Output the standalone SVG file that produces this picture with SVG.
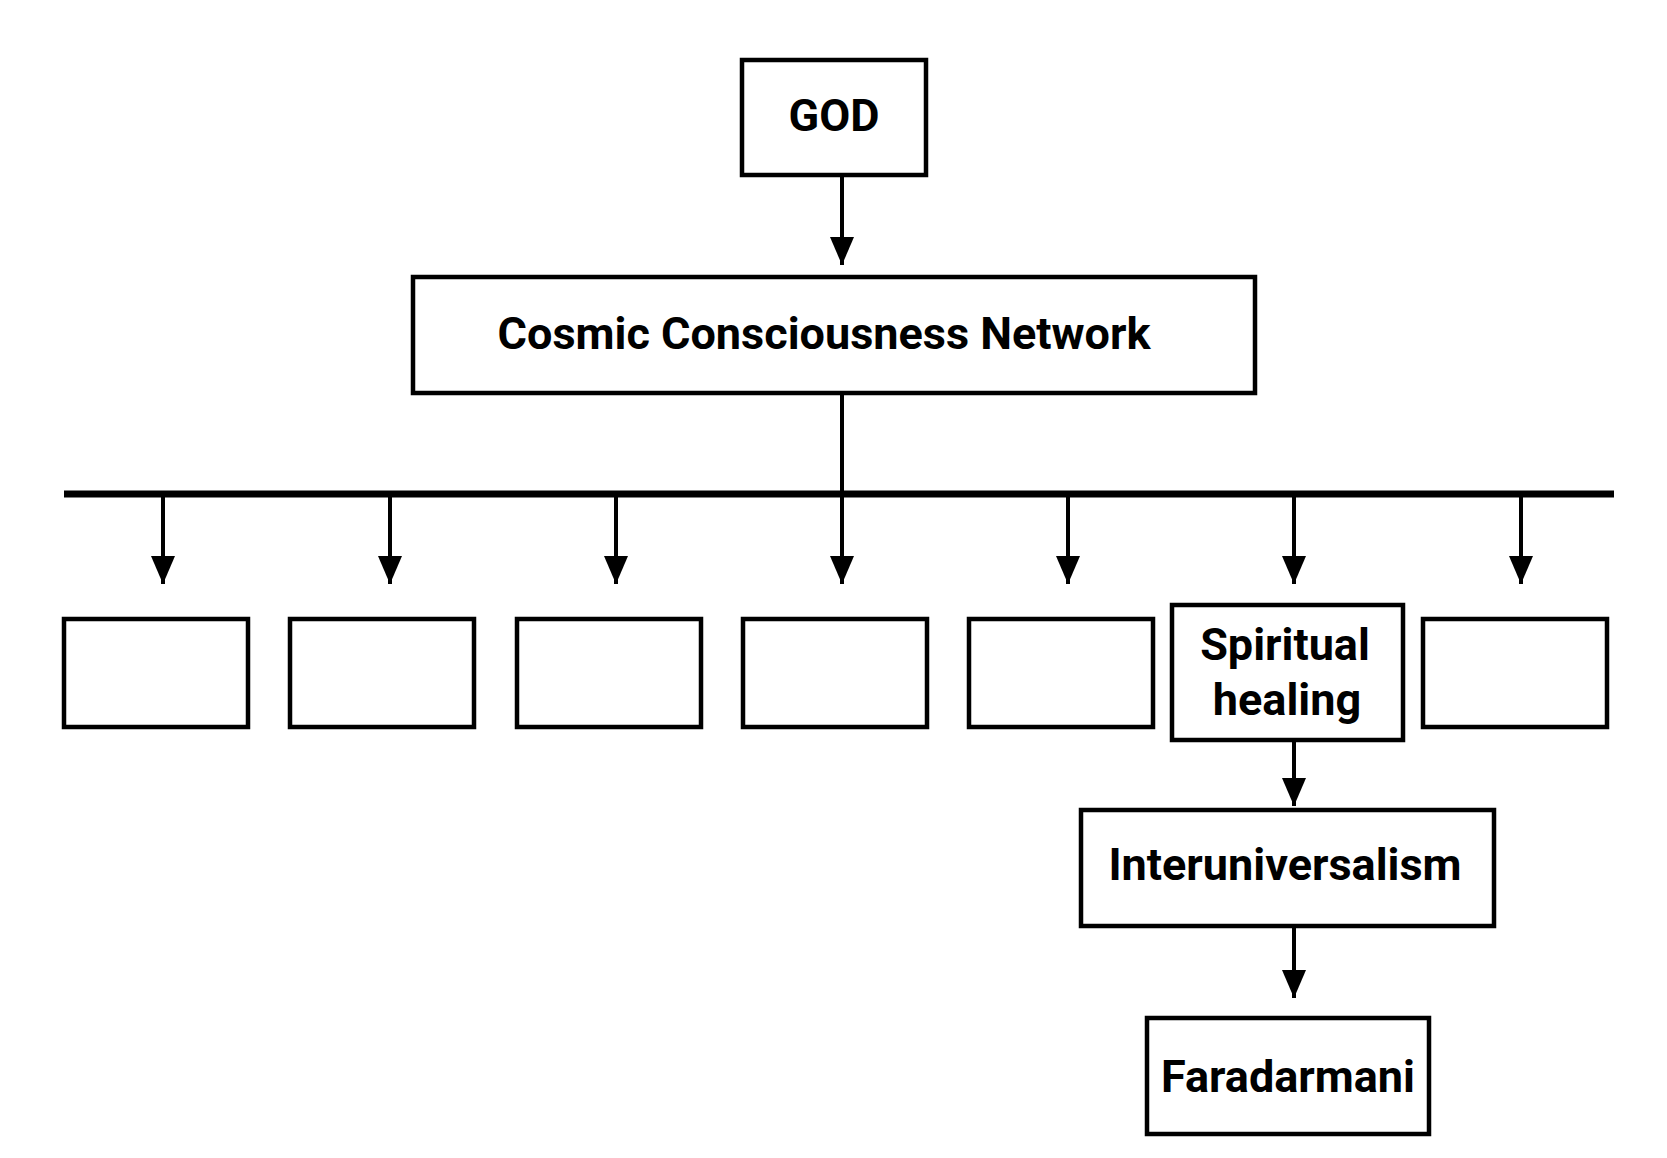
<svg xmlns="http://www.w3.org/2000/svg" width="1667" height="1158" viewBox="0 0 1667 1158">
<style>
.b{fill:#fff;stroke:#000;stroke-width:4.5}
.t{font-family:Roboto,"Liberation Sans",sans-serif;font-weight:bold;font-size:45px;fill:#000;text-anchor:middle}
.c{stroke:#000;stroke-width:4;fill:none}
</style>
<defs><marker id="a" markerWidth="7" markerHeight="6" refX="7" refY="3" orient="auto" markerUnits="strokeWidth"><path d="M0,0L7,3L0,6z" fill="#000"/></marker></defs>
<rect width="1667" height="1158" fill="#fff"/>
<g id="connectors">
<line class="c" x1="842" y1="175" x2="842" y2="265" marker-end="url(#a)"/>
<line class="c" x1="842" y1="393" x2="842" y2="494"/>
<line x1="64" y1="494" x2="1614" y2="494" stroke="#000" stroke-width="7"/>
<line class="c" x1="163" y1="494" x2="163" y2="584" marker-end="url(#a)"/>
<line class="c" x1="390" y1="494" x2="390" y2="584" marker-end="url(#a)"/>
<line class="c" x1="616" y1="494" x2="616" y2="584" marker-end="url(#a)"/>
<line class="c" x1="842" y1="494" x2="842" y2="584" marker-end="url(#a)"/>
<line class="c" x1="1068" y1="494" x2="1068" y2="584" marker-end="url(#a)"/>
<line class="c" x1="1294" y1="494" x2="1294" y2="584" marker-end="url(#a)"/>
<line class="c" x1="1521" y1="494" x2="1521" y2="584" marker-end="url(#a)"/>
<line class="c" x1="1294" y1="740" x2="1294" y2="806" marker-end="url(#a)"/>
<line class="c" x1="1294" y1="926" x2="1294" y2="998" marker-end="url(#a)"/>
</g>
<g id="god"><rect class="b" x="742" y="60" width="184" height="115"/><text class="t" x="834" y="131">GOD</text></g>
<g id="ccn"><rect class="b" x="413" y="277" width="842" height="116"/><text class="t" x="824" y="349">Cosmic Consciousness Network</text></g>
<g id="n1"><rect class="b" x="64" y="619" width="184" height="108"/></g>
<g id="n2"><rect class="b" x="290" y="619" width="184" height="108"/></g>
<g id="n3"><rect class="b" x="517" y="619" width="184" height="108"/></g>
<g id="n4"><rect class="b" x="743" y="619" width="184" height="108"/></g>
<g id="n5"><rect class="b" x="969" y="619" width="184" height="108"/></g>
<g id="spiritual"><rect class="b" x="1172" y="605" width="231" height="135"/><text class="t" x="1285" y="660">Spiritual</text><text class="t" x="1287" y="715">healing</text></g>
<g id="n7"><rect class="b" x="1423" y="619" width="184" height="108"/></g>
<g id="inter"><rect class="b" x="1081" y="810" width="413" height="116"/><text class="t" x="1285" y="880">Interuniversalism</text></g>
<g id="fara"><rect class="b" x="1147" y="1018" width="282" height="116"/><text class="t" x="1288" y="1092">Faradarmani</text></g>
</svg>
